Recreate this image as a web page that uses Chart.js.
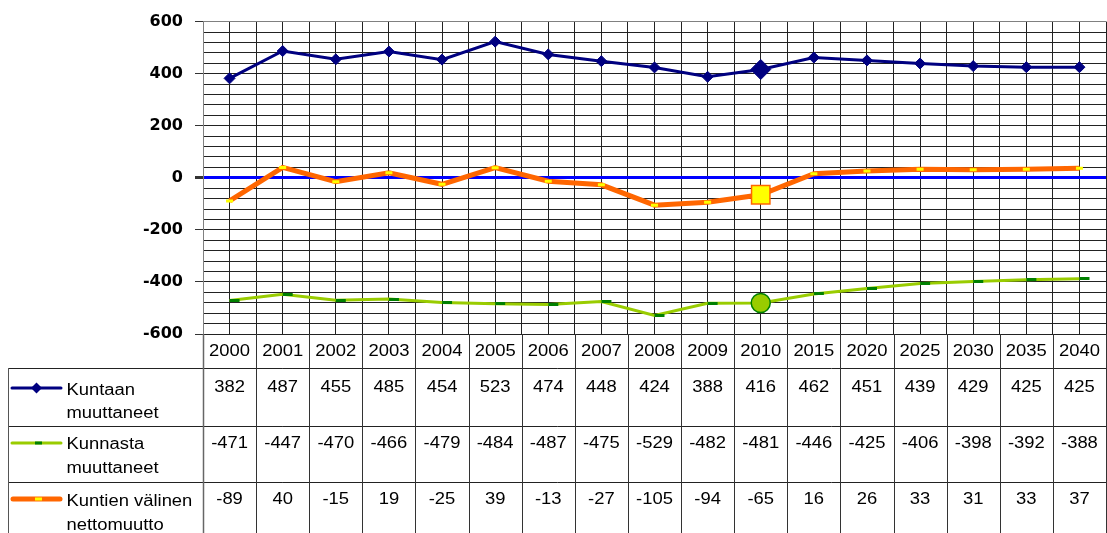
<!DOCTYPE html>
<html><head><meta charset="utf-8">
<script src="https://cdn.jsdelivr.net/npm/chart.js@4"></script>
<style>
html,body{margin:0;padding:0;background:#fff;overflow:hidden;width:1107px;height:533px}
#wrap{width:1113px;height:533px}
canvas{display:block}
</style>
</head><body>
<div id="wrap"><canvas id="c" width="1113" height="533"></canvas></div>
<script>
// ---- data ----
const categories = ['2000','2001','2002','2003','2004','2005','2006','2007','2008','2009','2010','2015','2020','2025','2030','2035','2040'];
const kuntaan = [382,487,455,485,454,523,474,448,424,388,416,462,451,439,429,425,425];
const kunnasta = [-471,-447,-470,-466,-479,-484,-487,-475,-529,-482,-481,-446,-425,-406,-398,-392,-388];
const netto = [-89,40,-15,19,-25,39,-13,-27,-105,-94,-65,16,26,33,31,33,37];
const seriesLabels = [['Kuntaan','muuttaneet'],['Kunnasta','muuttaneet'],['Kuntien välinen','nettomuutto']];
const yTickLabels = [-600,-400,-200,0,200,400,600];
const highlightCategory = '2010';

// ---- styles ----
const NAVY = '#000080', GREEN = '#99CC00', DKGREEN = '#008000', ORANGE = '#FF6600', YELLOW = '#FFFF00', BLUE = '#0000FF';
const hi = categories.indexOf(highlightCategory);

const greenDash = document.createElement('canvas');
greenDash.width = 22; greenDash.height = 3;
(function(){ const g = greenDash.getContext('2d'); g.fillStyle = DKGREEN; g.fillRect(11,0,10,3); })();

function stretchText(ctx, text, x, y, align){
  ctx.save();
  ctx.translate(x, y);
  ctx.scale(1.15, 1);
  ctx.textAlign = align;
  ctx.textBaseline = 'alphabetic';
  ctx.fillText(text, 0, 0);
  ctx.restore();
}
function seg(ctx, x1, y1, x2, y2){ ctx.beginPath(); ctx.moveTo(x1,y1); ctx.lineTo(x2,y2); ctx.stroke(); }

const tablePlugin = {
  id: 'dataTable',
  afterDraw(chart){
    const ctx = chart.ctx, a = chart.chartArea, xs = chart.scales.x;
    const n = categories.length;
    const half = (xs.getPixelForValue(1) - xs.getPixelForValue(0)) / 2;
    const top = Math.round(a.bottom);
    const rows = [top + 34, top + 92, top + 148];
    const bottom = chart.height + 10;
    const leftX = 8.5;
    ctx.save();
    ctx.lineWidth = 1;
    ctx.strokeStyle = '#222';
    rows.forEach(y => seg(ctx, leftX, y + 0.5, a.right, y + 0.5));
    ctx.strokeStyle = '#555';
    seg(ctx, leftX, rows[0], leftX, bottom);
    for (let i = 0; i <= n; i++) {
      const x = Math.round(xs.getPixelForValue(i) - half) + 0.5;
      ctx.strokeStyle = i === 0 ? '#666' : '#333';
      ctx.lineWidth = i === 0 ? 1.5 : 1;
      seg(ctx, x, top, x, bottom);
    }
    ctx.fillStyle = '#000';
    ctx.font = '16px "Liberation Sans", Arial, sans-serif';
    // header years
    categories.forEach((c, i) => stretchText(ctx, c, xs.getPixelForValue(i), top + 22, 'center'));
    // values
    const series = [kuntaan, kunnasta, netto];
    const valueBase = [rows[0] + 24, rows[1] + 22, rows[2] + 22];
    series.forEach((arr, r) => arr.forEach((v, i) => stretchText(ctx, String(v), xs.getPixelForValue(i), valueBase[r], 'center')));
    // legend labels
    const legBase = [[rows[0] + 27, rows[0] + 50], [rows[1] + 23, rows[1] + 47], [rows[2] + 24, rows[2] + 48]];
    seriesLabels.forEach((lines, r) => lines.forEach((t, k) => stretchText(ctx, t, 66.5, legBase[r][k], 'left')));
    // legend samples
    const symY = [rows[0] + 20, rows[1] + 17, rows[2] + 17];
    ctx.lineCap = 'round';
    ctx.strokeStyle = NAVY; ctx.lineWidth = 3;
    seg(ctx, 12, symY[0], 61, symY[0]);
    ctx.fillStyle = NAVY;
    ctx.beginPath(); ctx.moveTo(36.5 - 5.5, symY[0]); ctx.lineTo(36.5, symY[0] - 5.5); ctx.lineTo(42, symY[0]); ctx.lineTo(36.5, symY[0] + 5.5); ctx.closePath(); ctx.fill();
    ctx.strokeStyle = GREEN; ctx.lineWidth = 3;
    seg(ctx, 12, symY[1], 61, symY[1]);
    ctx.fillStyle = DKGREEN; ctx.fillRect(35, symY[1] - 1.5, 7, 3);
    ctx.strokeStyle = ORANGE; ctx.lineWidth = 5;
    seg(ctx, 13, symY[2], 60, symY[2]);
    ctx.fillStyle = YELLOW; ctx.fillRect(35, symY[2] - 1.5, 7, 3);
    ctx.restore();
  }
};

new Chart(document.getElementById('c'), {
  type: 'line',
  data: {
    labels: categories,
    datasets: [
      {
        label: seriesLabels[0].join(' '), data: kuntaan, order: 2,
        borderColor: NAVY, borderWidth: 3, tension: 0,
        pointStyle: 'rectRot',
        pointRadius: c => c.dataIndex === hi ? 10 : 5.5,
        pointBackgroundColor: NAVY, pointBorderColor: NAVY, pointBorderWidth: 1
      },
      {
        label: seriesLabels[1].join(' '), data: kunnasta, order: 1,
        borderColor: GREEN, borderWidth: 3, tension: 0,
        pointStyle: c => c.dataIndex === hi ? 'circle' : greenDash,
        pointRadius: c => c.dataIndex === hi ? 9.5 : 5,
        pointBackgroundColor: GREEN, pointBorderColor: DKGREEN, pointBorderWidth: 1.5
      },
      {
        label: seriesLabels[2].join(' '), data: netto, order: 0,
        borderColor: ORANGE, borderWidth: 5, tension: 0,
        pointStyle: c => c.dataIndex === hi ? 'rect' : 'line',
        pointRadius: c => c.dataIndex === hi ? 13 : 3.5,
        pointBackgroundColor: YELLOW,
        pointBorderColor: c => c.dataIndex === hi ? ORANGE : YELLOW,
        pointBorderWidth: c => c.dataIndex === hi ? 1.5 : 3
      }
    ]
  },
  options: {
    responsive: false, animation: false, events: [],
    layout: { padding: { top: 18, bottom: 199, left: 0, right: 0 } },
    plugins: { legend: { display: false }, tooltip: { enabled: false } },
    scales: {
      x: { display: false, offset: true },
      xg: {
        type: 'linear', position: 'bottom', min: -0.5, max: categories.length - 0.5, z: -1,
        ticks: { display: false, stepSize: 0.5 },
        grid: { color: '#222', lineWidth: 1, drawTicks: false },
        border: { display: false }
      },
      y: {
        min: -600, max: 600, z: 0,
        afterFit(s) { s.width = 203; },
        ticks: {
          stepSize: 40, autoSkip: false, padding: 12, color: '#000',
          font: { family: 'DejaVu Sans', weight: 'bold', size: 16 },
          callback: v => yTickLabels.includes(v) ? String(v) : ''
        },
        grid: {
          color: c => c.tick.value === 0 ? BLUE : (c.tick.value === 600 ? '#808080' : '#222'),
          lineWidth: c => c.tick.value === 0 ? 3 : 1,
          tickLength: 8,
          tickColor: c => yTickLabels.includes(c.tick.value) ? '#333' : 'rgba(0,0,0,0)'
        },
        border: { color: '#808080', width: 1 }
      }
    }
  },
  plugins: [tablePlugin]
});
</script>
</body></html>
